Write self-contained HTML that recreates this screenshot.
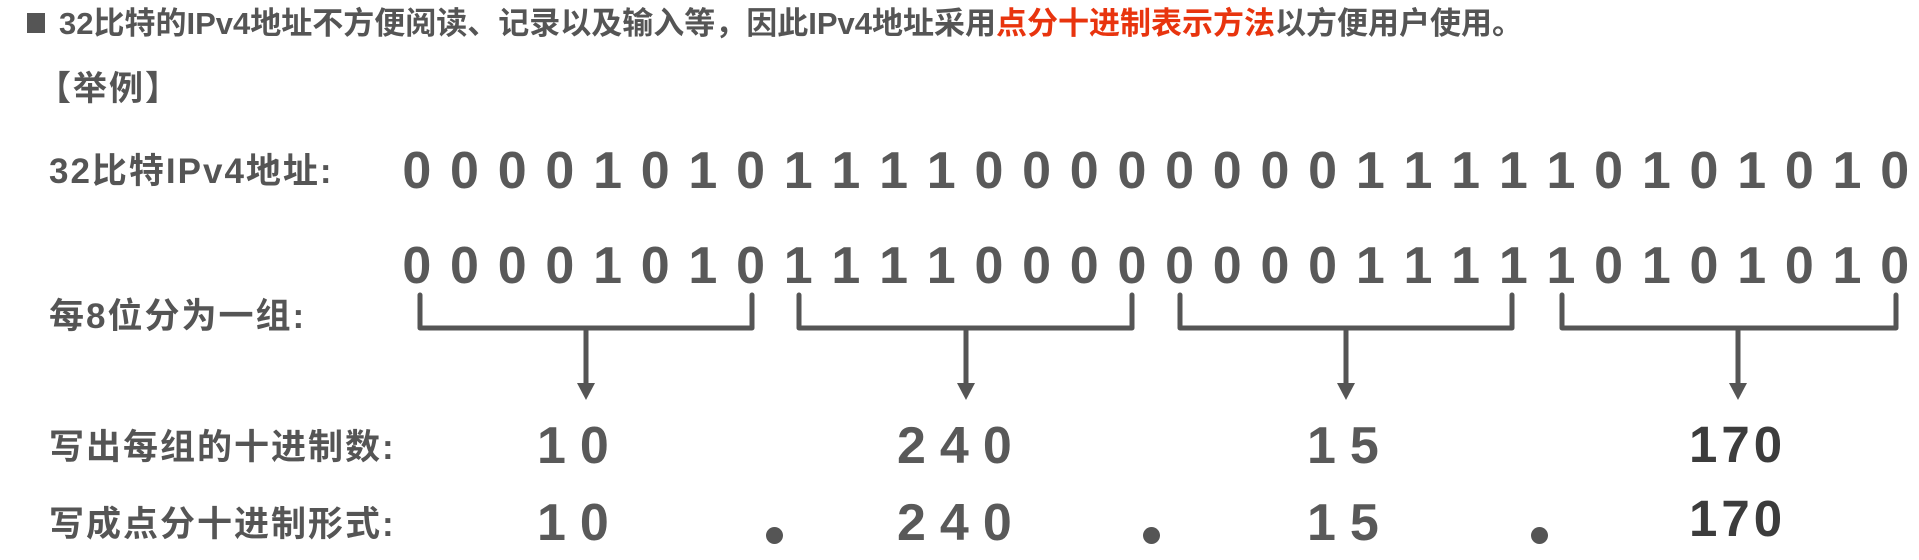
<!DOCTYPE html>
<html><head><meta charset="utf-8"><style>
body{margin:0;width:1919px;height:560px;background:#fff;position:relative;overflow:hidden;font-family:"Liberation Sans","Noto Sans CJK SC",sans-serif;color:#555;font-weight:bold}
.a{position:absolute;white-space:nowrap}
.t{font-size:31px;line-height:31px}
.l{font-size:35px;line-height:35px;letter-spacing:2px}
.row{position:absolute;left:393px;display:flex;font-size:52px;line-height:52px;color:#595959}
.row span{width:47.68px;text-align:center}
.n{font-size:52px;line-height:52px;letter-spacing:14px;color:#595959}
.m{font-size:51px;line-height:51px;color:#3c3c3c;letter-spacing:4px}
.dot{position:absolute;width:17px;height:17px;border-radius:50%;background:#555}
</style></head><body>
<div class="a" style="left:27px;top:13px;width:18px;height:20px;background:#555"></div>
<div class="a t" style="left:59px;top:8px">32比特的IPv4地址不方便阅读、记录以及输入等，因此IPv4地址采用<span style="color:#e8340e">点分十进制表示方法</span>以方便用户使用。</div>
<div class="a" style="left:37px;top:72px;font-size:34px;line-height:34px;letter-spacing:2px">【举例】</div>
<div class="a l" style="left:49px;top:154px">32比特IPv4地址:</div>
<div class="a l" style="left:49px;top:299px">每8位分为一组:</div>
<div class="a l" style="left:49px;top:430px">写出每组的十进制数:</div>
<div class="a l" style="left:49px;top:507px">写成点分十进制形式:</div>
<div class="row" style="top:145px"><span>0</span><span>0</span><span>0</span><span>0</span><span>1</span><span>0</span><span>1</span><span>0</span><span>1</span><span>1</span><span>1</span><span>1</span><span>0</span><span>0</span><span>0</span><span>0</span><span>0</span><span>0</span><span>0</span><span>0</span><span>1</span><span>1</span><span>1</span><span>1</span><span>1</span><span>0</span><span>1</span><span>0</span><span>1</span><span>0</span><span>1</span><span>0</span></div>
<div class="row" style="top:240px"><span>0</span><span>0</span><span>0</span><span>0</span><span>1</span><span>0</span><span>1</span><span>0</span><span>1</span><span>1</span><span>1</span><span>1</span><span>0</span><span>0</span><span>0</span><span>0</span><span>0</span><span>0</span><span>0</span><span>0</span><span>1</span><span>1</span><span>1</span><span>1</span><span>1</span><span>0</span><span>1</span><span>0</span><span>1</span><span>0</span><span>1</span><span>0</span></div>
<svg class="a" style="left:0;top:0" width="1919" height="560">
<g fill="none" stroke="#555" stroke-width="5" stroke-linecap="round" stroke-linejoin="round">
<path d="M420 295V328H752V295M586 328V386"/>
<path d="M799 295V328H1132V295M966 328V386"/>
<path d="M1180 295V328H1512V295M1346 328V386"/>
<path d="M1562 295V328H1896V295M1738 328V386"/>
</g>
<g fill="#555">
<path d="M577 383H595L586 400Z"/>
<path d="M957 383H975L966 400Z"/>
<path d="M1337 383H1355L1346 400Z"/>
<path d="M1729 383H1747L1738 400Z"/>
</g>
</svg>
<div class="a n" style="left:537px;top:420px">10</div>
<div class="a n" style="left:897px;top:420px">240</div>
<div class="a n" style="left:1307px;top:420px">15</div>
<div class="a m" style="left:1689px;top:419px">170</div>
<div class="a n" style="left:537px;top:497px">10</div>
<div class="a n" style="left:897px;top:497px">240</div>
<div class="a n" style="left:1307px;top:497px">15</div>
<div class="a m" style="left:1689px;top:493px">170</div>
<div class="dot" style="left:766px;top:527px"></div>
<div class="dot" style="left:1143px;top:527px"></div>
<div class="dot" style="left:1531px;top:527px"></div>
</body></html>
